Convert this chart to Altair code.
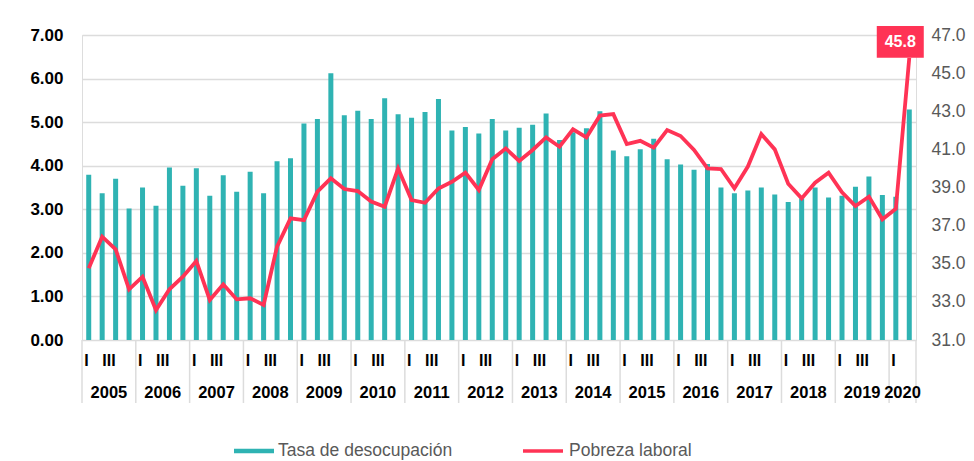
import altair as alt
import pandas as pd

# ---- data ----
years = [2005, 2006, 2007, 2008, 2009, 2010, 2011, 2012, 2013, 2014,
         2015, 2016, 2017, 2018, 2019, 2020]
quarters_per_year = [4] * 15 + [2]
quarter_names = ["I", "", "III", ""]

desocupacion = [
    3.79, 3.37, 3.70, 3.02,
    3.50, 3.08, 3.96, 3.54,
    3.94, 3.31, 3.78, 3.40,
    3.86, 3.37, 4.10, 4.17,
    4.97, 5.07, 6.12, 5.16,
    5.26, 5.07, 5.55, 5.18,
    5.10, 5.23, 5.53, 4.81,
    4.89, 4.74, 5.07, 4.81,
    4.87, 4.94, 5.20, 4.59,
    4.77, 4.86, 5.25, 4.35,
    4.22, 4.38, 4.62, 4.15,
    4.03, 3.91, 4.04, 3.50,
    3.37, 3.43, 3.50, 3.34,
    3.17, 3.25, 3.50, 3.27,
    3.31, 3.52, 3.75, 3.33,
    3.29, 5.29,
]

pobreza = [
    34.76, 36.42, 35.76, 33.66,
    34.32, 32.57, 33.66, 34.32,
    35.14, 33.10, 33.92, 33.13,
    33.19, 32.84, 35.90, 37.38,
    37.29, 38.78, 39.48, 38.92,
    38.81, 38.26, 37.99, 40.00,
    38.34, 38.20, 38.95, 39.30,
    39.78, 38.87, 40.48, 41.05,
    40.39, 40.97, 41.63, 41.14,
    42.05, 41.63, 42.77, 42.85,
    41.28, 41.45, 41.09, 42.01,
    41.70, 40.97, 40.00, 39.97,
    38.96, 40.10, 41.80, 41.00,
    39.20, 38.43, 39.25, 39.78,
    38.75, 38.03, 38.52, 37.33,
    37.88, 45.8,
]

left_ticks = [0, 1, 2, 3, 4, 5, 6, 7]
right_ticks = [31, 33, 35, 37, 39, 41, 43, 45, 47]

TEAL = "#2FB3B3"
RED = "#FF3355"
FONT = "Liberation Sans"

# ---- tables built from the arrays ----
rows = []
qrows = []
yrows = []
seps = [-0.5]
i = 0
for y, n in zip(years, quarters_per_year):
    start = i
    for q in range(n):
        rows.append({"idx": i, "bar": desocupacion[i], "line": pobreza[i],
                     "s1": "Tasa de desocupación", "s2": "Pobreza laboral"})
        if quarter_names[q]:
            qrows.append({"idx": i, "q": quarter_names[q]})
        i += 1
    yrows.append({"idx": (start + i - 1) / 2, "year": str(y)})
    seps.append(i - 0.5)

df = pd.DataFrame(rows)
qdf = pd.DataFrame(qrows)
ydf = pd.DataFrame(yrows)
sdf = pd.DataFrame({"idx": seps})

W, H = 834, 305
xscale = alt.Scale(domain=[-0.5, len(df) - 0.5], nice=False, zero=False, padding=0)
X = alt.X("idx:Q", scale=xscale, axis=None)

bars = alt.Chart(df).mark_bar(size=5, color=TEAL).encode(
    x=X,
    y=alt.Y("bar:Q", scale=alt.Scale(domain=[0, 7], nice=False),
            axis=alt.Axis(values=left_ticks, format=".2f", title=None,
                          ticks=False, domain=False, grid=True,
                          gridColor="#dcdcdc", gridWidth=1.5,
                          labelFont=FONT, labelFontSize=17,
                          labelFontWeight="bold", labelColor="#000000",
                          labelPadding=19)),
    color=alt.Color("s1:N", scale=alt.Scale(domain=["Tasa de desocupación"], range=[TEAL]),
                    legend=alt.Legend(title=None, orient="none", legendX=152, legendY=396,
                                      padding=0, symbolType="M-1,-0.11H1V0.11H-1Z",
                                      symbolSize=1600, symbolStrokeWidth=0,
                                      labelFont=FONT, labelFontSize=17.5, labelLimit=400,
                                      labelColor="#595959", labelOffset=4)),
)

qlabels = alt.Chart(qdf).mark_text(align="right", baseline="middle", dx=0,
                                   font=FONT, fontSize=16, fontWeight="bold",
                                   color="#000000").encode(
    x=X, y=alt.value(326), text="q:N")

ylabels = alt.Chart(ydf).mark_text(align="center", baseline="middle",
                                   font=FONT, fontSize=16.5, fontWeight="bold",
                                   color="#000000").encode(
    x=X, y=alt.value(358), text="year:N")

sep_rules = alt.Chart(sdf).mark_rule(color="#dcdcdc", strokeWidth=1.5).encode(
    x=X, y=alt.value(H), y2=alt.value(368))

left_group = alt.layer(bars, sep_rules, qlabels, ylabels)

RY = alt.Y("line:Q", scale=alt.Scale(domain=[31, 47], nice=False),
           axis=alt.Axis(orient="right", values=right_ticks, format=".1f", title=None,
                         ticks=False, domain=False, grid=False,
                         labelFont=FONT, labelFontSize=17.5, labelColor="#595959",
                         labelPadding=15))

line = alt.Chart(df).mark_line(strokeWidth=3.8).encode(
    x=X, y=RY,
    stroke=alt.Stroke("s2:N", scale=alt.Scale(domain=["Pobreza laboral"], range=[RED]),
                      legend=alt.Legend(title=None, orient="none", legendX=439, legendY=394,
                                        padding=0, symbolType="stroke",
                                        symbolSize=1600, symbolStrokeWidth=3.5,
                                        labelFont=FONT, labelFontSize=17.5, labelLimit=400,
                                        labelColor="#595959", labelOffset=4)),
)

last = alt.Chart(df).transform_filter(f"datum.idx == {len(df) - 1}")

box = last.mark_point(shape="M-1,-0.68H1V0.68H-1Z", size=2209, filled=True,
                      opacity=1, color=RED, xOffset=-9, yOffset=-16).encode(x=X, y=RY)

box_text = last.mark_text(align="center", baseline="middle", dx=-9, dy=-16,
                          font=FONT, fontSize=16, fontWeight="bold",
                          color="#FFFFFF").encode(
    x=X, y=RY, text=alt.Text("line:Q", format=".1f"))

right_group = alt.layer(line, box, box_text)

chart = alt.layer(left_group, right_group).resolve_scale(
    y="independent", color="independent", stroke="independent"
).properties(
    width=W, height=H,
    padding={"left": 74, "top": 27, "right": 50, "bottom": 121},
    autosize=alt.AutoSizeParams(type="none"),
).configure_view(stroke="#dcdcdc", strokeWidth=1.5).configure(background="#ffffff")

chart.save("out.html", embed_options={"renderer": "svg", "actions": False})
